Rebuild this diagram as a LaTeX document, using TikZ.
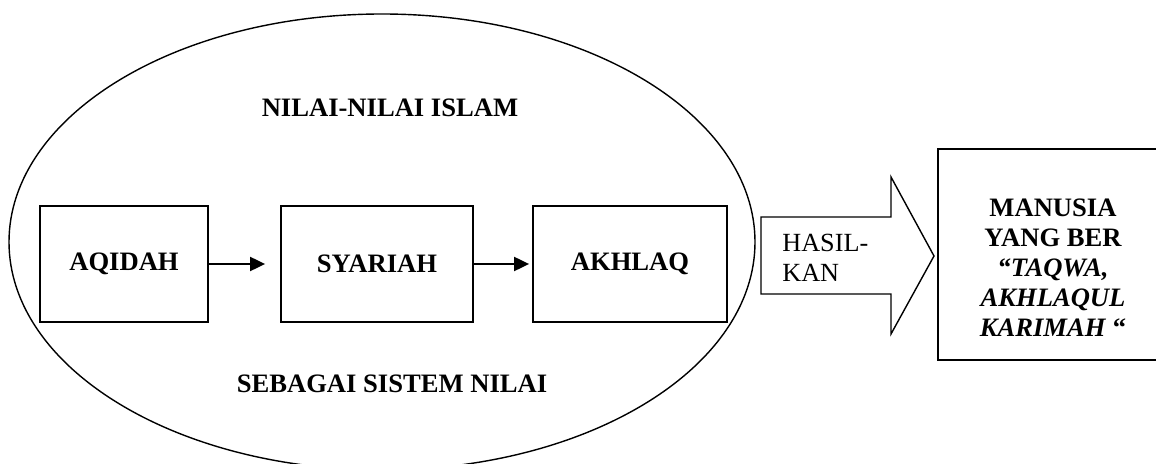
\documentclass[tikz,border=0pt]{standalone}
\usepackage{fontspec}
\setmainfont{Liberation Serif}
\usetikzlibrary{arrows.meta, positioning, shapes.geometric}
\tikzset{
	valuebox/.style={draw, line width=0.9pt, minimum height=58pt, inner sep=0pt, font=\fontsize{13.3}{15}\selectfont\bfseries},
	titletext/.style={inner sep=0pt, font=\fontsize{13.3}{15}\selectfont\bfseries},
	flowarr/.style={-{Triangle[length=7.5pt, width=7pt]}, line width=1pt},
	blockarr/.style={draw, line width=0.7pt, line join=miter},
	resultbox/.style={draw, line width=1.2pt, minimum width=115pt, minimum height=105.5pt},
}

\begin{document}
\begin{tikzpicture}[x=0.5pt, y=-0.5pt]
				\useasboundingbox (0,0) rectangle (1156,464);
				\node[draw, ellipse, line width=0.7pt, minimum width=373pt, minimum height=228pt, inner sep=0pt] (nilai) at (382,242) {};
				\node[titletext] (judul) at (390,108) {NILAI-NILAI ISLAM};
				\node[titletext] (sistem) at (392,384) {SEBAGAI SISTEM NILAI};
				\node[valuebox, minimum width=84pt] (aqidah) at (124,264) {AQIDAH};
				\node[valuebox, minimum width=96pt] (syariah) at (377,264) {SYARIAH};
				\node[valuebox, minimum width=97pt] (akhlaq) at (630,264) {AKHLAQ};
				\draw[flowarr, shorten >=7.5pt] (aqidah) -- (syariah);
				\draw[flowarr, shorten >=1.5pt] (syariah) -- (akhlaq);
				% panah hasil
				\draw[blockarr] (761,217) -- (891,217) -- (891,177) -- (934,256) -- (891,334) -- (891,294) -- (761,294) -- cycle;
				\node[anchor=north west, align=left, inner sep=0pt, font=\fontsize{13.1}{15}\selectfont] (hasil) at (782,234) {HASIL-\\KAN};
				\node[resultbox] (manusia) at (1053,254.5) {};
				\node[anchor=north, align=center, inner sep=0pt, font=\fontsize{13.3}{15}\selectfont\bfseries] (takwa) at (1053,198) {MANUSIA\\YANG BER\\\textit{“TAQWA,}\\\textit{AKHLAQUL}\\\textit{KARIMAH} “};
			\end{tikzpicture}
\end{document}
